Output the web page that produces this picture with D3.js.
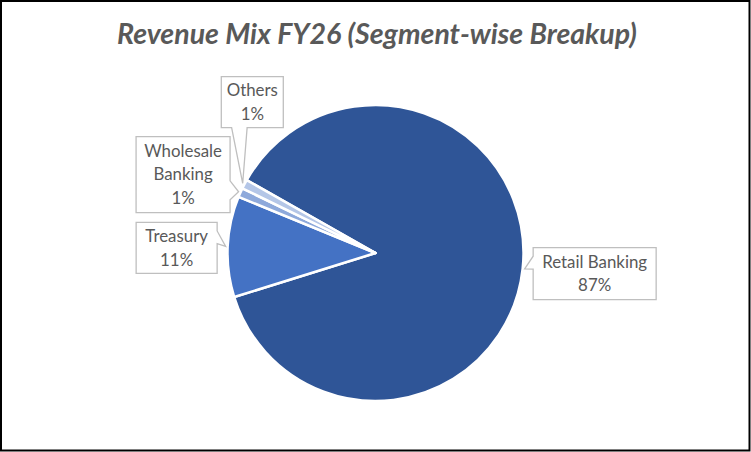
<!DOCTYPE html>
<html>
<head>
<meta charset="utf-8">
<script src="https://cdn.jsdelivr.net/npm/d3@7"></script>
<style>
  html, body { margin: 0; padding: 0; background: #fff; }
  svg { display: block; }
</style>
</head>
<body>
<svg id="chart" width="751" height="452"></svg>
<script>
// ---- data ----
const segments = ["Retail Banking", "Treasury", "Wholesale Banking", "Others"];
const values = [87, 11, 1, 1];
const colors = ["#2F5597", "#4472C4", "#8EA9DB", "#B4C6E7"];
const titleText = "Revenue Mix FY26 (Segment-wise Breakup)";

// ---- label layout (box centre offset from callout tip, box size, line wrapping) ----
const labelDx = [70, -49, -55.5, 9.6];
const labelDy = [4.6, 1.5, -17.2, -81.2];
const labelW = [123, 81, 94, 62];
const labelH = [52, 51, 76, 51];
const labelWrap = [false, false, true, true];

const W = 751, H = 452;
const cx = 375.5, cy = 253, R = 148, tipR = 150;
const startDeg = -60.5;
const textColor = "#595959";
const fontFam = "Lato, 'Open Sans', sans-serif";

const svg = d3.select("#chart");
svg.append("rect").attr("x", 0).attr("y", 0).attr("width", W).attr("height", H).attr("fill", "#fff");
svg.append("rect").attr("x", 1).attr("y", 1).attr("width", W - 2.5).attr("height", H - 2.5)
  .attr("fill", "none").attr("stroke", "#000").attr("stroke-width", 2);

// title, fitted to the reference width
const title = svg.append("text")
  .attr("x", 377).attr("y", 44)
  .attr("text-anchor", "middle")
  .attr("font-family", fontFam)
  .attr("font-weight", "bold").attr("font-style", "italic")
  .attr("font-size", 24).attr("fill", textColor)
  .text(titleText);
const tw = title.node().getComputedTextLength();
title.attr("font-size", 24 * 520 / tw);

// label font size fitted so "Retail Banking" is ~105px wide
const probe = svg.append("text").attr("font-family", fontFam).attr("font-size", 16).text(segments[0]);
const labelSize = 16 * 105 / probe.node().getComputedTextLength();
probe.remove();

const data = segments.map((s, i) => ({ name: s, value: values[i], i }));
const total = d3.sum(values);
const start = startDeg * Math.PI / 180;
const pie = d3.pie().value(d => d.value).sort(null).startAngle(start).endAngle(start + 2 * Math.PI);
const arcs = pie(data);
const arc = d3.arc().innerRadius(0).outerRadius(R);

const g = svg.append("g").attr("transform", `translate(${cx},${cy})`);
g.selectAll("path.slice").data(arcs).enter().append("path")
  .attr("class", "slice")
  .attr("d", arc)
  .attr("fill", d => colors[d.data.i])
  .attr("stroke", "#fff").attr("stroke-width", 2.5).attr("stroke-linejoin", "round");

// callout labels
function calloutPath(l, t, w, h, tx, ty) {
  const r = l + w, b = t + h;
  const hc = l + w / 2, vc = t + h / 2;
  const dxPos = tx - hc, dyPos = ty - vc;
  const dq = dxPos * h / w;
  const dz = Math.abs(dyPos) - Math.abs(dq);
  const xg1 = dxPos > 0 ? 7 : 2, xg2 = dxPos > 0 ? 10 : 5;
  const yg1 = dyPos > 0 ? 7 : 2, yg2 = dyPos > 0 ? 10 : 5;
  const x1 = l + w * xg1 / 12, x2 = l + w * xg2 / 12;
  const y1 = t + h * yg1 / 12, y2 = t + h * yg2 / 12;
  const p = d3.path();
  p.moveTo(l, t);
  if (dz > 0 && dyPos < 0) { p.lineTo(x1, t); p.lineTo(tx, ty); p.lineTo(x2, t); }
  p.lineTo(r, t);
  if (dz <= 0 && dxPos > 0) { p.lineTo(r, y1); p.lineTo(tx, ty); p.lineTo(r, y2); }
  p.lineTo(r, b);
  if (dz > 0 && dyPos > 0) { p.lineTo(x2, b); p.lineTo(tx, ty); p.lineTo(x1, b); }
  p.lineTo(l, b);
  if (dz <= 0 && dxPos < 0) { p.lineTo(l, y2); p.lineTo(tx, ty); p.lineTo(l, y1); }
  p.closePath();
  return p.toString();
}

const lg = svg.append("g");
arcs.forEach(a => {
  const i = a.data.i;
  const mid = (a.startAngle + a.endAngle) / 2;
  const tx = cx + tipR * Math.sin(mid), ty = cy - tipR * Math.cos(mid);
  const bx = tx + labelDx[i], by = ty + labelDy[i];
  const l = bx - labelW[i] / 2, t = by - labelH[i] / 2;
  lg.append("path")
    .attr("d", calloutPath(l, t, labelW[i], labelH[i], tx, ty))
    .attr("fill", "#fff").attr("stroke", "#BFBFBF").attr("stroke-width", 1.3);
  const pct = Math.round(a.data.value / total * 100) + "%";
  const lines = labelWrap[i] ? a.data.name.split(" ").concat([pct]) : [a.data.name, pct];
  const lh = 23.3;
  const y0 = by - (lines.length - 1) * lh / 2;
  lines.forEach((ln, k) => {
    lg.append("text")
      .attr("x", bx).attr("y", y0 + k * lh)
      .attr("dy", "0.35em")
      .attr("text-anchor", "middle")
      .attr("font-family", fontFam)
      .attr("font-size", labelSize)
      .attr("fill", textColor)
      .text(ln);
  });
});
</script>
</body>
</html>
